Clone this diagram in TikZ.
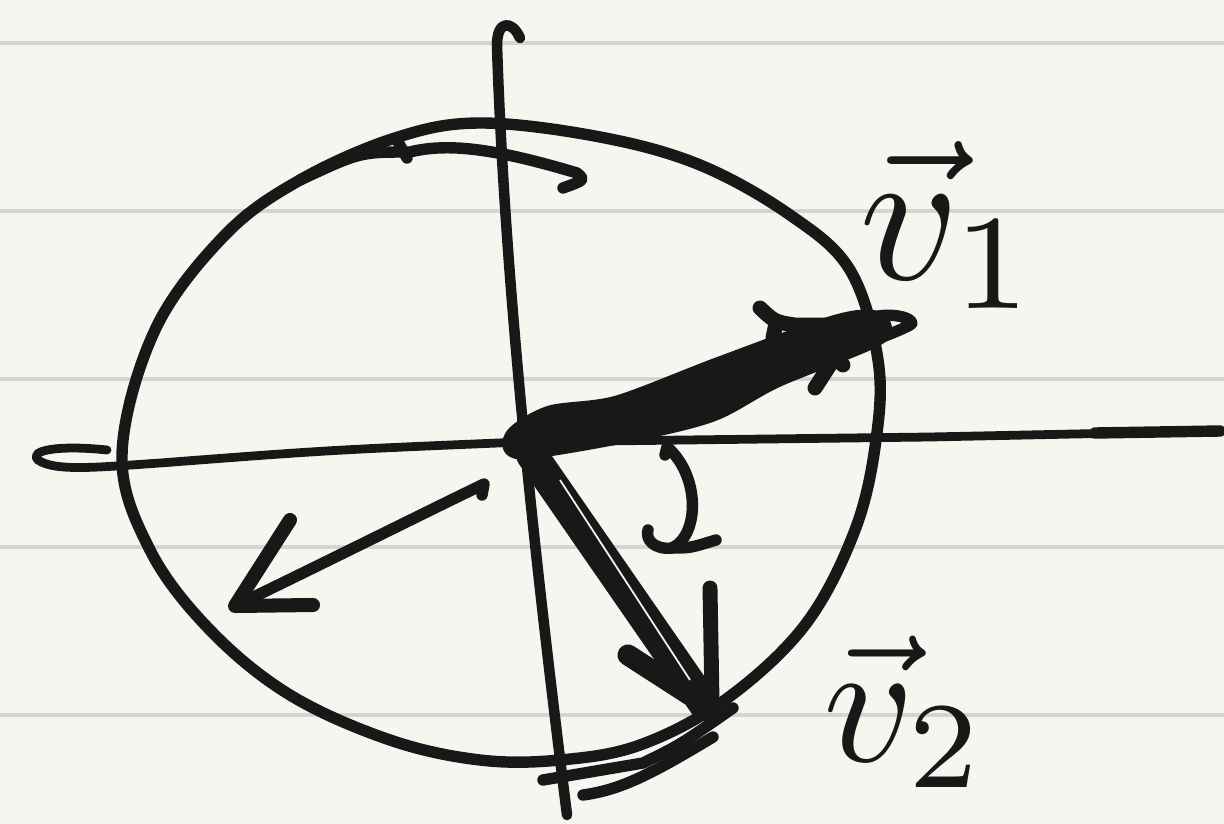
\documentclass[tikz,border=0pt]{standalone}
\usepackage{tikz}

\definecolor{paper}{HTML}{F6F6F1}
\definecolor{rulecol}{HTML}{D5D5CF}
\definecolor{ink}{HTML}{181818}

\begin{document}
\begin{tikzpicture}[x=0.02cm,y=-0.02cm,
  pen/.style={line width=6.5pt,draw=ink,line cap=round,line join=round},
  axis/.style={line width=5pt,draw=ink,line cap=round,line join=round},
  heavy/.style={line width=8.5pt,draw=ink,line cap=round,line join=round}]

\useasboundingbox (0,0) rectangle (1224,824);
\fill[paper] (0,0) rectangle (1224,824);
\foreach \y in {43,211,379,547,715}
  \draw[rulecol,line width=2.3pt] (0,\y) -- (1224,\y);

\coordinate (O) at (522,442);
\coordinate (P1) at (872,325);
\coordinate (P2) at (705,705);
\coordinate (P3) at (235,606);

% circle
\draw[pen] plot[smooth cycle,tension=0.6] coordinates {(122,455) (155,330) (225,235) (300,180) (395,138) (480,123) (600,137) (700,165) (790,215) (850,270) (878,360) (876,440) (855,530) (805,625) (725,700) (640,745) (560,760) (480,760) (390,740) (290,695) (210,630) (150,550)};

% axes
\draw[axis,line width=6pt] (520,38) .. controls (512,20) and (497,20) .. (497,45) .. controls (505,300) and (540,600) .. (567,815);
\draw[axis] (107,450) .. controls (60,445) and (28,450) .. (38,460) .. controls (55,472) and (100,467) .. (160,463) .. controls (330,450) .. (O) -- (930,437) -- (1220,431);
\draw[axis,line width=6.5pt] (1095,433) -- (1220,431);

% rotation marks
\draw[pen] (300,180) .. controls (360,152) .. (410,152) .. controls (450,142) and (500,150) .. (577,173) .. controls (585,180) .. (563,188);
\draw[pen] (407,158) -- (397,140);
\draw[pen] (543,780) -- (643,763) .. controls (680,745) .. (733,708);
\draw[pen] (583,795) .. controls (620,790) and (650,775) .. (713,737);

% v1
\filldraw[heavy,fill=ink] plot[smooth cycle,tension=0.5] coordinates {(513,435) (550,413) (617,403) (717,365) (833,323) (875,318) (878,338) (777,380) (713,414) (633,434) (522,452)};
\draw[heavy] (760,308) .. controls (775,322) .. (795,325) -- (P1);
\draw[heavy] (775,328) -- (773,338);
\draw[heavy] (815,388) -- (835,357) -- (843,365);
\draw[pen] (868,318) .. controls (900,310) and (918,322) .. (910,325) .. controls (900,330) .. (875,340);

% v2
\draw[ink,line width=18pt,line cap=round] (532,455) -- (P2);
\draw[paper,line width=1pt] (560,480) -- (690,680);
\draw[heavy,line width=12pt] (628,655) -- (690,695);
\draw[heavy] (710,588) -- (712,700);

% third arrow
\draw[pen] (482,495) -- (484,484) .. controls (420,515) and (320,565) .. (P3);
\draw[pen,line width=8pt] (290,520) -- (P3) -- (313,605);

% angle
\draw[pen] (665,455) -- (667,447) .. controls (700,475) and (700,535) .. (672,548) .. controls (655,550) and (645,540) .. (648,530);
\draw[pen] (672,548) .. controls (690,548) .. (716,540);

\node[ink,scale=11] (v1) at (950,225) {$\vec{v}_1$};
\node[ink,scale=10] (v2) at (905,712) {$\vec{v}_2$};

\end{tikzpicture}
\end{document}
